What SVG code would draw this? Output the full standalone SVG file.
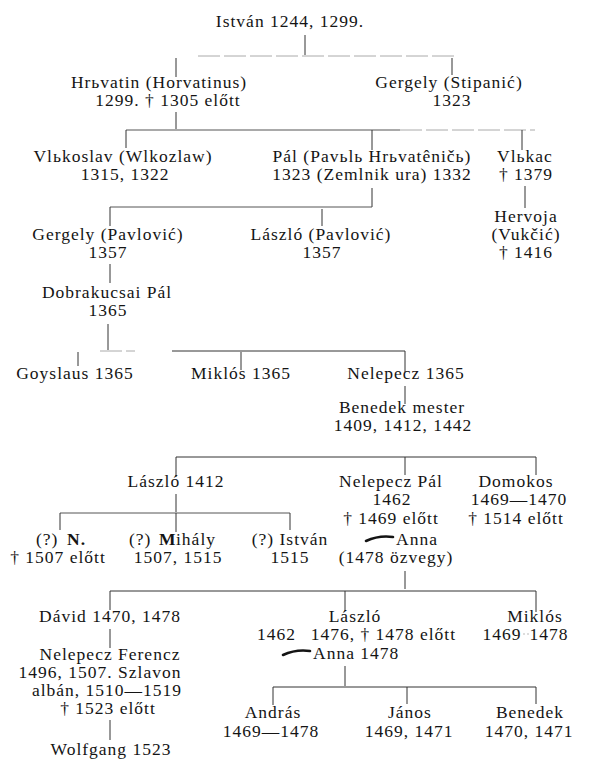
<svg xmlns="http://www.w3.org/2000/svg" width="591" height="765" viewBox="0 0 591 765">
<style>
text{font-family:"Liberation Serif","DejaVu Serif",serif;font-size:17.5px;letter-spacing:1px;fill:#141414;text-anchor:middle}
.s{text-anchor:start}
.e{text-anchor:end}
.b{font-weight:bold}
.c line{stroke:#333;stroke-width:1}
.c .f{stroke:#aaa;stroke-dasharray:22 4}
.c .g{stroke:#555}
.sw{fill:none;stroke:#141414;stroke-width:2.6;stroke-linecap:round}
.dot{stroke:#bbb;stroke-width:1;stroke-dasharray:2 2}
</style>
<rect width="591" height="765" fill="#fff"/>
<g class="c" id="connectors">
<line x1="305" y1="35" x2="305" y2="55"/>
<line class="f" x1="198" y1="56" x2="456" y2="56"/>
<line x1="176" y1="58" x2="176" y2="77"/>
<line x1="452" y1="58" x2="452" y2="75"/>
<line x1="176" y1="112" x2="176" y2="129"/>
<line class="g" x1="126" y1="130" x2="400" y2="130"/>
<line class="f" x1="400" y1="130" x2="535" y2="130"/>
<line x1="126" y1="130" x2="126" y2="148"/>
<line x1="372" y1="130" x2="372" y2="150"/>
<line x1="522" y1="130" x2="522" y2="150"/>
<line x1="372" y1="188" x2="372" y2="207"/>
<line class="g" x1="110" y1="207" x2="372" y2="207"/>
<line x1="110" y1="207" x2="110" y2="226"/>
<line x1="322" y1="209" x2="322" y2="226"/>
<line x1="525" y1="186" x2="525" y2="208"/>
<line x1="110" y1="264" x2="110" y2="283"/>
<line x1="108" y1="324" x2="108" y2="350"/>
<line class="f" x1="100" y1="351" x2="135" y2="351"/>
<line x1="172" y1="351" x2="405" y2="351"/>
<line x1="78" y1="352" x2="78" y2="366"/>
<line x1="241" y1="352" x2="241" y2="370"/>
<line x1="405" y1="351" x2="405" y2="372"/>
<line x1="405" y1="386" x2="405" y2="404"/>
<line x1="176" y1="457" x2="536" y2="457"/>
<line x1="176" y1="457" x2="176" y2="477"/>
<line x1="405" y1="457" x2="405" y2="475"/>
<line x1="536" y1="457" x2="536" y2="475"/>
<line x1="176" y1="494" x2="176" y2="512"/>
<line class="g" x1="60" y1="513" x2="290" y2="513"/>
<line x1="60" y1="513" x2="60" y2="530"/>
<line x1="176" y1="513" x2="176" y2="532"/>
<line x1="290" y1="513" x2="290" y2="530"/>
<line x1="405" y1="571" x2="405" y2="589"/>
<line x1="110" y1="591" x2="536" y2="591"/>
<line x1="110" y1="591" x2="110" y2="610"/>
<line x1="345" y1="591" x2="345" y2="611"/>
<line x1="536" y1="591" x2="536" y2="612"/>
<line x1="110" y1="629" x2="110" y2="648"/>
<line x1="110" y1="720" x2="110" y2="740"/>
<line x1="345" y1="666" x2="345" y2="686"/>
<line x1="273" y1="687" x2="536" y2="687"/>
<line x1="273" y1="687" x2="273" y2="705"/>
<line x1="407" y1="687" x2="407" y2="704"/>
<line x1="536" y1="687" x2="536" y2="704"/>
</g>
<g id="istvan"><text x="290" y="27">István 1244, 1299.</text></g>
<g id="hrbvatin"><text x="159" y="88">Hrьvatin (Horvatinus)</text><text x="168" y="106">1299. † 1305 előtt</text></g>
<g id="gergely-stipanic"><text x="449" y="88">Gergely (Stipanić)</text><text x="452" y="106">1323</text></g>
<g id="vlbkoslav"><text x="123" y="162">Vlьkoslav (Wlkozlaw)</text><text x="125" y="180">1315, 1322</text></g>
<g id="pal"><text x="372" y="162">Pál (Pavьlь Hrьvatêničь)</text><text x="372" y="180">1323 (Zemlnik ura) 1332</text></g>
<g id="vlbkac"><text x="525" y="162">Vlьkac</text><text x="526" y="180">† 1379</text></g>
<g id="hervoja"><text x="526" y="222">Hervoja</text><text x="526" y="240">(Vukčić)</text><text x="526" y="258">† 1416</text></g>
<g id="gergely-pavlovic"><text x="108" y="240">Gergely (Pavlović)</text><text x="108" y="258">1357</text></g>
<g id="laszlo-pavlovic"><text x="321" y="240">László (Pavlović)</text><text x="322" y="258">1357</text></g>
<g id="dobrakucsai"><text x="107" y="298">Dobrakucsai Pál</text><text x="108" y="316">1365</text></g>
<g id="goyslaus"><text x="75" y="379">Goyslaus 1365</text></g>
<g id="miklos1"><text x="241" y="379">Miklós 1365</text></g>
<g id="nelepecz"><text x="406" y="379">Nelepecz 1365</text></g>
<g id="benedek-mester"><text x="402" y="413">Benedek mester</text><text x="403" y="431">1409, 1412, 1442</text></g>
<g id="laszlo1412"><text x="176" y="487">László 1412</text></g>
<g id="nelepecz-pal"><text x="391" y="487">Nelepecz Pál</text><text x="392" y="505">1462</text><text x="391" y="524">† 1469 előtt</text><path class="sw" d="M366 541 Q379 535 393 537"/><text class="s" x="396" y="545">Anna</text><text x="396" y="563">(1478 özvegy)</text></g>
<g id="domokos"><text x="516" y="487">Domokos</text><text x="519" y="505">1469—1470</text><text x="516" y="524">† 1514 előtt</text></g>
<g id="n"><text class="s" x="36" y="545">(?)</text><text class="s b" x="67" y="545">N.</text><text x="58" y="563">† 1507 előtt</text></g>
<g id="mihaly"><text class="s" x="129" y="545">(?)</text><text class="s b" x="159" y="545">M</text><text class="s" x="176" y="545">ihály</text><text x="178" y="563">1507, 1515</text></g>
<g id="istvan2"><text x="290" y="545">(?) István</text><text x="290" y="563">1515</text></g>
<g id="david"><text x="110" y="622">Dávid 1470, 1478</text></g>
<g id="nelepecz-ferencz"><text x="110" y="660">Nelepecz Ferencz</text><text x="100" y="678">1496, 1507. Szlavon</text><text x="107" y="696">albán, 1510—1519</text><text x="108" y="714">† 1523 előtt</text></g>
<g id="wolfgang"><text x="111" y="755">Wolfgang 1523</text></g>
<g id="laszlo2"><text x="355" y="622">László</text><text class="s" x="257" y="640">1462</text><text class="e" x="456" y="640">1476, † 1478 előtt</text><path class="sw" d="M283 655 Q296 649 310 651"/><text class="s" x="313" y="659">Anna 1478</text></g>
<g id="miklos2"><text x="535" y="622">Miklós</text><text x="502" y="640">1469</text><line class="dot" x1="523" y1="634" x2="530" y2="634"/><text x="549" y="640">1478</text></g>
<g id="andras"><text x="273" y="718">András</text><text x="271" y="737">1469—1478</text></g>
<g id="janos"><text x="410" y="718">János</text><text x="409" y="737">1469, 1471</text></g>
<g id="benedek"><text x="530" y="718">Benedek</text><text x="529" y="737">1470, 1471</text></g>
</svg>
